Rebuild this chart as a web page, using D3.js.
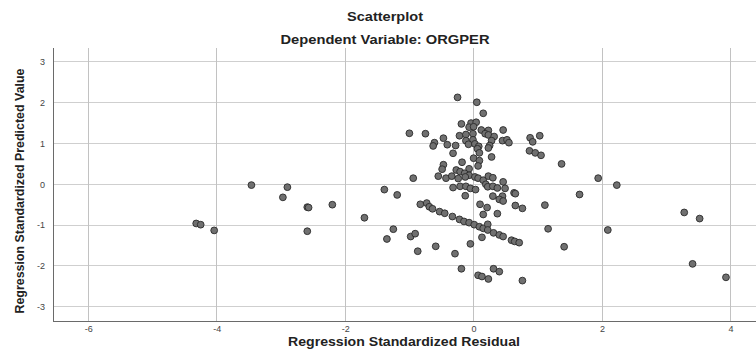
<!DOCTYPE html>
<html><head><meta charset="utf-8">
<script src="https://cdn.jsdelivr.net/npm/d3@7"></script>
<style>body{margin:0;background:#fff}svg{display:block}text{font-family:"Liberation Sans",Arial,sans-serif}</style>
</head><body><svg id="c" width="756" height="358"></svg>
<script>
const title = "Scatterplot";
const subtitle = "Dependent Variable: ORGPER";
const xTitle = "Regression Standardized Residual";
const yTitle = "Regression Standardized Predicted Value";
const xTicks = [-6, -4, -2, 0, 2, 4];
const yTicks = [-3, -2, -1, 0, 1, 2, 3];
// Regression standardized residual (x)
const residual = [
 -3.46,-2.90,-2.97,-2.59,-2.57,-2.20,-1.70,-4.32,-4.25,-4.04,-2.59,
 1.37,1.94,2.23,1.65,3.28,3.52,2.09,1.41,3.41,3.93,
 -0.25,0.05,0.15,-0.19,-0.04,0.04,-0.07,0.00,0.12,0.23,0.46,-1.00,-0.75,-0.22,-0.12,-0.01,0.18,0.23,0.32,-0.47,
 -0.12,-0.01,0.28,0.45,0.52,0.55,0.88,1.03,0.92,-0.61,-0.63,-0.41,-0.28,-0.08,0.02,0.08,0.25,0.23,0.06,0.87,
 0.96,1.05,-0.32,0.09,0.00,0.28,-0.18,0.09,-0.47,-0.49,0.07,-0.07,-0.27,-0.21,-0.14,-0.07,0.02,0.07,0.15,0.23,
 0.30,0.46,-0.94,-0.55,-0.43,-0.34,-0.24,-0.13,-0.32,-0.21,-0.12,-0.05,0.03,0.19,0.22,0.30,0.37,0.49,0.63,-1.39,
 -1.19,-0.13,0.30,0.45,0.40,0.46,0.65,
 -0.83,-0.73,-0.69,-0.64,-0.53,-0.45,-0.33,-0.22,-0.15,-0.07,0.01,0.09,0.15,0.22,0.22,0.31,0.40,0.46,0.59,0.64,
 0.71,0.10,0.21,0.15,0.37,0.65,0.76,1.11,-1.25,-1.35,-0.98,-0.91,-0.87,-0.59,-0.29,-0.05,0.13,1.16,-0.19,0.31,
 0.40,0.07,0.13,0.23,0.76
];
// Regression standardized predicted value (y)
const predicted = [
 -0.02,-0.07,-0.32,-0.56,-0.57,-0.50,-0.82,-0.96,-0.99,-1.13,-1.15,
 0.50,0.15,-0.02,-0.25,-0.69,-0.84,-1.12,-1.53,-1.95,-2.28,
 2.13,2.01,1.74,1.48,1.50,1.52,1.40,1.41,1.33,1.32,1.33,1.25,1.24,1.19,1.22,1.24,1.24,1.21,1.17,1.13,
 1.07,1.09,1.07,1.07,1.09,1.02,1.14,1.19,1.04,1.02,0.94,0.97,0.95,0.98,0.99,0.93,0.95,0.89,0.87,0.82,
 0.77,0.71,0.76,0.77,0.64,0.67,0.54,0.58,0.48,0.37,0.45,0.38,0.35,0.31,0.27,0.22,0.18,0.15,0.10,0.20,
 0.16,0.06,0.15,0.20,0.15,0.20,0.14,0.18,-0.08,-0.05,-0.05,-0.10,-0.13,0.00,-0.06,-0.05,-0.09,-0.10,-0.21,-0.13,
 -0.26,-0.28,-0.29,-0.29,-0.37,-0.41,-0.23,
 -0.49,-0.46,-0.55,-0.60,-0.67,-0.71,-0.79,-0.86,-0.91,-0.94,-0.99,-1.04,-1.08,-0.98,-1.12,-1.19,-1.24,-1.28,-1.37,-1.40,
 -1.43,-0.49,-0.57,-0.74,-0.72,-0.52,-0.59,-0.51,-1.10,-1.34,-1.28,-1.21,-1.64,-1.52,-1.70,-1.46,-1.30,-1.09,-2.07,-2.07,
 -2.14,-2.23,-2.26,-2.32,-2.36
];
const points = residual.map((r, i) => ({x: r, y: predicted[i]}));

const svg = d3.select("#c");
const L = 53, R = 760, T = 48, B = 321;
const x = d3.scaleLinear().domain([-6.55, 4.46]).range([L, R]);
const y = d3.scaleLinear().domain([-3.35, 3.34]).range([B, T]);

// grid
svg.append("g").selectAll("line").data(yTicks).join("line")
  .attr("x1", L).attr("x2", R).attr("y1", d => y(d)).attr("y2", d => y(d))
  .attr("stroke", "#cfcfcf").attr("stroke-width", 1).attr("shape-rendering", "crispEdges");
svg.append("g").selectAll("line").data(xTicks).join("line")
  .attr("y1", T).attr("y2", B).attr("x1", d => x(d)).attr("x2", d => x(d))
  .attr("stroke", "#c2c2c2").attr("stroke-width", 1).attr("shape-rendering", "crispEdges");

// axes
const fmt = d => String(d);
const xAxis = svg.append("g").attr("transform", `translate(0,${B})`)
  .call(d3.axisBottom(x).tickValues(xTicks).tickFormat(fmt).tickSize(0).tickSizeOuter(0).tickPadding(5));
const yAxis = svg.append("g").attr("transform", `translate(${L},0)`)
  .call(d3.axisLeft(y).tickValues(yTicks).tickFormat(fmt).tickSize(0).tickSizeOuter(0).tickPadding(8));
[xAxis, yAxis].forEach(g => {
  g.select(".domain").attr("stroke", "#6a6a6a").attr("shape-rendering", "crispEdges");
  g.selectAll("text").attr("font-size", 9).attr("fill", "#444").attr("font-family", "'Liberation Sans',Arial,sans-serif");
});
yAxis.select(".domain").attr("d", `M0,${T}V${B}`);
xAxis.select(".domain").attr("d", `M${L},0H${R}`);

// points
svg.append("g").selectAll("circle").data(points).join("circle")
  .attr("cx", d => x(d.x)).attr("cy", d => y(d.y)).attr("r", 3.4)
  .attr("fill", "#707070").attr("stroke", "#2a2a2a").attr("stroke-width", 0.9);

// titles (the reference is slightly stretched horizontally)
function hText(txt, cxp, by, size, len) {
  svg.append("text").attr("x", cxp).attr("y", by).attr("text-anchor", "middle")
    .attr("font-size", size).attr("font-weight", "bold").attr("fill", "#222")
    .attr("textLength", len).attr("lengthAdjust", "spacingAndGlyphs").text(txt);
}
hText(title, 385, 21, 13.5, 76);
hText(subtitle, 385, 44, 13, 209);
hText(xTitle, 404, 346, 12.5, 232);
svg.append("text").attr("transform", `translate(24,191) rotate(-90)`)
  .attr("text-anchor", "middle").attr("font-size", 12.5).attr("font-weight", "bold")
  .attr("fill", "#222").attr("textLength", 245).attr("lengthAdjust", "spacingAndGlyphs").text(yTitle);
</script></body></html>
